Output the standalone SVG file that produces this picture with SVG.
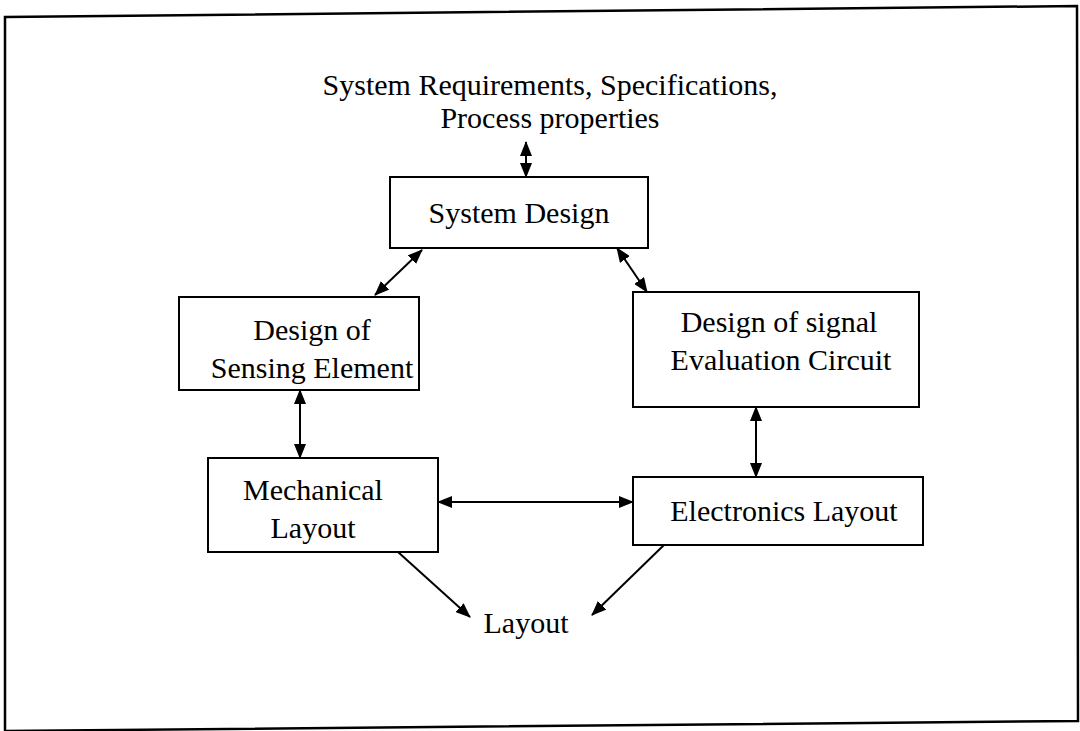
<svg xmlns="http://www.w3.org/2000/svg" width="1080" height="731" viewBox="0 0 1080 731">
<style>
.box{fill:#fff;stroke:#000;stroke-width:2}
.t{font-family:"Liberation Serif","Times New Roman",serif;font-size:30px;fill:#000;text-anchor:middle}
.c{stroke:#000;stroke-width:2;fill:none;marker-start:url(#ah);marker-end:url(#ah)}
.c1{stroke:#000;stroke-width:2;fill:none;marker-end:url(#ah)}
</style>
<defs>
<marker id="ah" viewBox="0 0 15 12" refX="14" refY="6" markerWidth="15" markerHeight="12" markerUnits="userSpaceOnUse" orient="auto-start-reverse">
<path d="M0,0 L15,6 L0,12 Z" fill="#000"/>
</marker>
</defs>
<rect width="1080" height="731" fill="#fff"/>
<polygon points="5,17 1077,6 1078,721 5,731" fill="none" stroke="#000" stroke-width="2.5"/>
<g id="title">
<text class="t" x="550" y="95">System Requirements, Specifications,</text>
<text class="t" x="550" y="128">Process properties</text>
</g>
<g id="system-design">
<rect class="box" x="390" y="177" width="258" height="71"/>
<text class="t" x="519" y="223">System Design</text>
</g>
<g id="sensing">
<rect class="box" x="179" y="297" width="240" height="93"/>
<text class="t" x="312" y="340">Design of</text>
<text class="t" x="312" y="378">Sensing Element</text>
</g>
<g id="signal">
<rect class="box" x="633" y="292" width="286" height="115"/>
<text class="t" x="779" y="332">Design of signal</text>
<text class="t" x="781" y="370">Evaluation Circuit</text>
</g>
<g id="mechanical">
<rect class="box" x="208" y="458" width="230" height="94"/>
<text class="t" x="313" y="500">Mechanical</text>
<text class="t" x="313" y="538">Layout</text>
</g>
<g id="electronics">
<rect class="box" x="633" y="477" width="290" height="68"/>
<text class="t" x="784" y="521">Electronics Layout</text>
</g>
<g id="layout">
<text class="t" x="526" y="633">Layout</text>
</g>
<g id="connectors">
<line class="c" x1="526" y1="142" x2="526" y2="177"/>
<line class="c" x1="422" y1="250" x2="375" y2="295"/>
<line class="c" x1="617" y1="248" x2="647" y2="292"/>
<line class="c" x1="300" y1="390" x2="300" y2="458"/>
<line class="c" x1="756" y1="407" x2="756" y2="477"/>
<line class="c" x1="438" y1="502" x2="633" y2="502"/>
<line class="c1" x1="398" y1="552" x2="470" y2="617"/>
<line class="c1" x1="664" y1="545" x2="592" y2="615"/>
</g>
</svg>
